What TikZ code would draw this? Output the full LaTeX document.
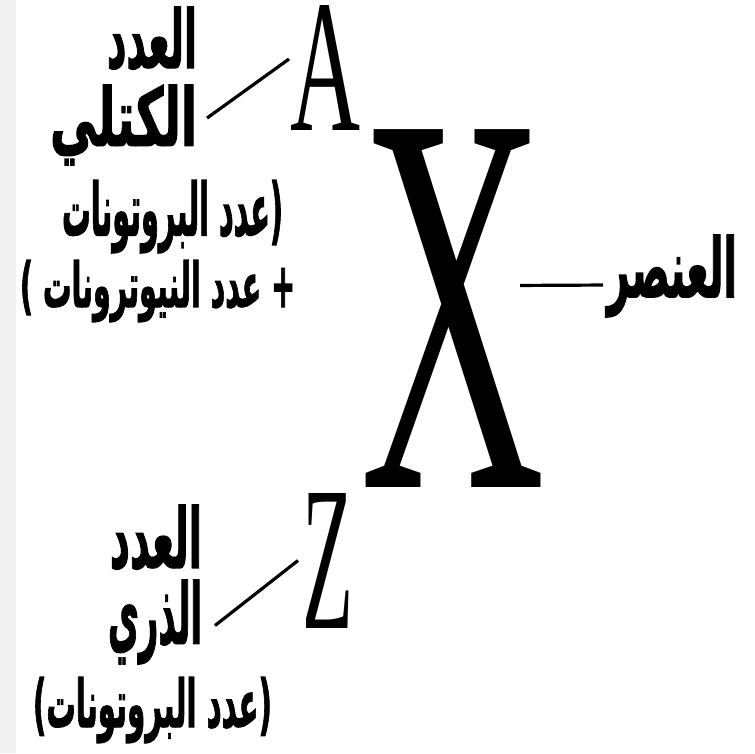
\documentclass[tikz,border=0pt]{standalone}
\usepackage{fontspec}
\setmainfont{Liberation Serif}
\newfontfamily\arabicfont[Script=Arabic,BoldFeatures={FakeBold=2}]{DejaVu Sans}
\TeXXeTstate=1
\newcommand\artxt[1]{{\arabicfont\bfseries\beginR #1\endR}}
\newcommand\fitto[3]{\resizebox*{#1pt}{#2pt}{#3}}
\begin{document}
\begin{tikzpicture}[x=1pt,y=-1pt,
  lbl/.style={inner sep=0pt,outer sep=0pt,anchor=north west},
  conn/.style={line width=3.2pt,black}]
\useasboundingbox (0,0) rectangle (755,753);
\fill[white] (0,0) rectangle (755,753);
\fill[black!6] (0,0) rectangle (16,753);
% symbol letters
\node[lbl] (A) at (290,5) {\fitto{70}{125}{A}};
\node[lbl] (X) at (360,130) {\fitto{185}{357}{X}};
\node[lbl] (Z) at (302,493) {\fitto{51}{135}{Z}};
% mass number labels
\node[lbl] (mass1) at (107,7) {\fitto{90}{63}{\artxt{العدد}}};
\node[lbl] (mass2) at (50,85) {\fitto{147}{80}{\artxt{الكتلي}}};
\node[lbl] (mass3) at (62,180) {\fitto{221}{73}{\artxt{(عدد البروتونات}}};
\node[lbl] (mass4) at (20,260) {\fitto{275}{62}{\artxt{+ عدد النيوترونات )}}};
% element label
\node[lbl] (elem) at (607,235) {\fitto{130}{82}{\artxt{العنصر}}};
% atomic number labels
\node[lbl] (atom1) at (110,505) {\fitto{92}{65}{\artxt{العدد}}};
\node[lbl] (atom2) at (108,580) {\fitto{94}{84}{\artxt{الذري}}};
\node[lbl] (atom3) at (33,677) {\fitto{239}{66}{\artxt{(عدد البروتونات)}}};
% connectors
\draw[conn] ([shift={(10,-7)}]mass2.east) -- ([shift={(-1,-8.5)}]A.west);
\draw[conn] ([shift={(13,3.5)}]atom2.east) -- ([shift={(-4,0)}]Z.west);
\draw[conn] ([shift={(-25,-23.5)}]X.east) -- ([shift={(-4,9)}]elem.west);
\end{tikzpicture}
\end{document}
